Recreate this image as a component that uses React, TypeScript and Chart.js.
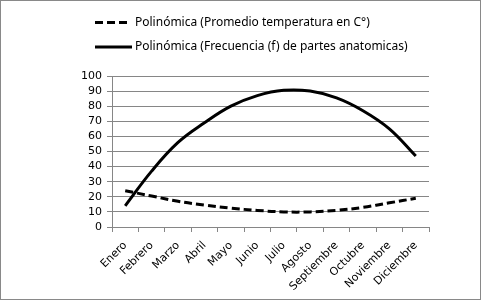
import React, { useEffect, useRef } from "react";
import { Chart, registerables } from "chart.js";

Chart.register(...registerables);

const months = ["Enero", "Febrero", "Marzo", "Abril", "Mayo", "Junio", "Julio", "Agosto", "Septiembre", "Octubre", "Noviembre", "Diciembre"];
const temperatura = [24, 20.5, 17, 14.5, 12.5, 11, 10, 10, 11, 13, 16, 19];
const frecuencia = [14, 37, 56, 69, 80, 87, 90.5, 90, 85.5, 77, 65, 47];
const labelTemp = "Polinómica (Promedio temperatura en C°)";
const labelFreq = "Polinómica (Frecuencia (f) de partes anatomicas)";

const GRID = "#868686";

const legendPlugin = {
  id: "customLegend",
  afterDraw(chart: any) {
    const ctx = chart.ctx;
    const rows = [22.5, 47];
    ctx.save();
    chart.data.datasets.forEach((ds: any, i: number) => {
      const y = rows[i];
      ctx.beginPath();
      ctx.lineWidth = 3;
      ctx.strokeStyle = "#000";
      ctx.setLineDash(ds.borderDash || []);
      ctx.moveTo(95, y);
      ctx.lineTo(ds.borderDash && ds.borderDash.length ? 128 : 132, y);
      ctx.stroke();
      ctx.setLineDash([]);
      ctx.fillStyle = "#000";
      ctx.font = "12px 'Noto Sans'";
      ctx.textBaseline = "middle";
      ctx.textAlign = "left";
      ctx.fillText(ds.label, 135, y);
    });
    ctx.strokeStyle = "#898989";
    ctx.lineWidth = 1;
    ctx.strokeRect(0.5, 0.5, chart.width - 1, chart.height - 1);
    ctx.restore();
  },
};

export default function App() {
  const ref = useRef<HTMLCanvasElement | null>(null);
  useEffect(() => {
    document.body.style.margin = "0";
    const chart = new Chart(ref.current!, {
      type: "line",
      data: {
        labels: months,
        datasets: [
          {
            label: labelTemp,
            data: temperatura,
            borderColor: "#000",
            borderWidth: 3,
            borderDash: [8, 4],
            pointRadius: 0,
            tension: 0.4,
            fill: false,
          },
          {
            label: labelFreq,
            data: frecuencia,
            borderColor: "#000",
            borderWidth: 3,
            pointRadius: 0,
            tension: 0.4,
            fill: false,
          },
        ],
      },
      options: {
        animation: false,
        responsive: false,
        maintainAspectRatio: false,
        layout: { padding: { top: 76, right: 52, left: 0, bottom: 0 } },
        plugins: { legend: { display: false }, tooltip: { enabled: false } },
        scales: {
          x: {
            type: "category",
            offset: true,
            grid: { display: true, drawOnChartArea: false, drawTicks: true, tickLength: 5, offset: true, color: GRID },
            border: { display: true, color: GRID, width: 1 },
            ticks: { color: "#000", font: { family: "'DejaVu Sans'", size: 11 }, maxRotation: 45, minRotation: 45, autoSkip: false, padding: 7 },
            afterFit: (s: any) => { s.height = 73; },
          },
          y: {
            min: 0,
            max: 100,
            ticks: { stepSize: 10, autoSkip: false, color: "#000", font: { family: "'DejaVu Sans'", size: 11 }, padding: 5 },
            grid: { color: GRID, tickLength: 5, drawTicks: true },
            border: { display: true, color: GRID, width: 1 },
            afterFit: (s: any) => { s.width = 112; },
          },
        },
      },
      plugins: [legendPlugin],
    });
    return () => chart.destroy();
  }, []);
  return <canvas ref={ref} width={481} height={300} style={{ display: "block" }} />;
}
